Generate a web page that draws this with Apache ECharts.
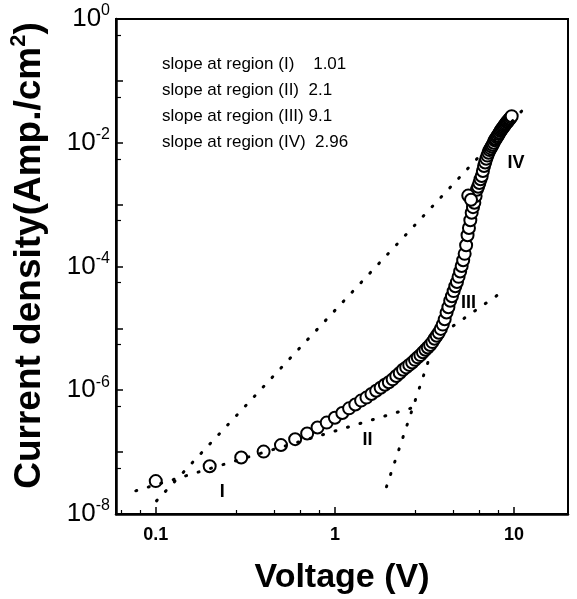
<!DOCTYPE html>
<html>
<head>
    <meta charset="utf-8" />
    <title>Current density vs voltage</title>
    <script src="https://cdn.jsdelivr.net/npm/echarts@6/dist/echarts.min.js"></script>
    <style>
        body { margin: 0; background: #fff; }
        #main { width: 577px; height: 599px; }
    </style>
</head>
<body>
<div id="main"></div>
<script type="text/javascript">
    // measured points (V, A/cm2)
    let voltage = [
        0.1, 0.2, 0.3, 0.4, 0.5, 0.6, 0.7, 0.8, 0.9, 1.0,
        1.1, 1.2, 1.3, 1.4, 1.5, 1.6, 1.7, 1.8, 1.9, 2.0,
        2.1, 2.2, 2.3, 2.4, 2.5, 2.6, 2.7, 2.8, 2.9, 3.0,
        3.1, 3.2, 3.3, 3.4, 3.5, 3.6, 3.7, 3.8, 3.9, 4.0,
        4.1, 4.2, 4.3, 4.4, 4.5, 4.6, 4.7, 4.8, 4.9, 5.0,
        5.1, 5.2, 5.3, 5.4, 5.5, 5.6, 5.7, 5.8, 5.9, 6.0,
        6.1, 6.2, 6.3, 6.4, 6.5, 6.6, 6.7, 6.8, 6.9, 7.0,
        7.1, 7.2, 7.3, 7.4, 7.5, 7.6, 7.7, 7.8, 7.9, 8.0,
        8.1, 8.2, 8.3, 8.4, 8.5, 8.6, 8.7, 8.8, 8.9, 9.0,
        9.1, 9.2, 9.3, 9.4, 9.5, 9.6, 9.7
    ]
    let current = [
        3.4e-8, 5.9e-8, 8.2e-8, 1.02e-7, 1.3e-7, 1.62e-7, 2.0e-7, 2.5e-7, 3.0e-7, 3.6e-7,
        4.3e-7, 5.1e-7, 5.9e-7, 6.8e-7, 7.6e-7, 8.7e-7, 9.8e-7, 1.1e-6, 1.23e-6, 1.35e-6,
        1.5e-6, 1.7e-6, 1.9e-6, 2.14e-6, 2.34e-6, 2.57e-6, 2.8e-6, 3.1e-6, 3.4e-6, 3.7e-6,
        4.1e-6, 4.5e-6, 4.9e-6, 5.4e-6, 6.0e-6, 6.8e-6, 7.6e-6, 8.5e-6, 9.8e-6, 1.15e-5,
        1.4e-5, 1.8e-5, 2.2e-5, 2.8e-5, 3.3e-5, 4.0e-5, 4.8e-5, 5.6e-5, 6.8e-5, 8.3e-5,
        1.02e-4, 1.26e-4, 1.6e-4, 2.2e-4, 3.2e-4, 4.2e-4, 5.6e-4, 7.4e-4, 9.1e-4, 1.07e-3,
        1.38e-3, 1.74e-3, 1.95e-3, 2.24e-3, 2.57e-3, 2.9e-3, 3.5e-3, 4.2e-3, 4.8e-3, 5.5e-3,
        6.2e-3, 6.9e-3, 7.6e-3, 8.1e-3, 8.7e-3, 9.3e-3, 1.0e-2, 1.1e-2, 1.15e-2, 1.23e-2,
        1.29e-2, 1.38e-2, 1.45e-2, 1.55e-2, 1.62e-2, 1.7e-2, 1.78e-2, 1.86e-2, 1.95e-2, 2.04e-2,
        2.14e-2, 2.19e-2, 2.29e-2, 2.4e-2, 2.45e-2, 2.57e-2, 2.69e-2
    ]
    // a couple of stray points near the jump at ~5.6 V
    let extraVoltage = [5.55, 5.75]
    let extraCurrent = [1.4e-3, 1.2e-3]

    // dotted fit lines, end points
    let fitLong = [[0.101, 1.63e-8], [11.7, 0.039]]
    let fitLow = [[0.0774, 2.37e-8], [2.82, 5.4e-7]]
    let fitSteep = [[1.94, 2.75e-8], [3.46, 4.2e-6]]
    let fitMid = [[4.58, 1.1e-5], [8.26, 3.6e-5]]

    // region labels
    let regionNames = ['I', 'II', 'III', 'IV']
    let regionX = [0.235, 1.52, 5.56, 10.26]
    let regionY = [2.3e-8, 1.58e-7, 2.6e-5, 4.7e-3]

    let slopeText = [
        'slope at region (I)    1.01',
        'slope at region (II)  2.1',
        'slope at region (III) 9.1',
        'slope at region (IV)  2.96'
    ]

    let xTickValues = [0.1, 1, 10]
    let xTickLabels = ['0.1', '1', '10']

    let fontName = 'Liberation Sans, Arial, sans-serif'

    let myChart = echarts.init(document.getElementById('main'))

    let points = []
    for (let i = 0; i < voltage.length; i++) {
        points.push([voltage[i], current[i]])
    }
    for (let i = 0; i < extraVoltage.length; i++) {
        points.push([extraVoltage[i], extraCurrent[i]])
    }

    let regionData = []
    for (let i = 0; i < regionNames.length; i++) {
        regionData.push({ name: regionNames[i], value: [regionX[i], regionY[i]] })
    }

    const dotLine = (data) => {
        return {
            type: 'line',
            data: data,
            symbol: 'none',
            silent: true,
            z: 4,
            lineStyle: {
                color: '#000',
                width: 3,
                type: [1, 12],
                cap: 'round',
            },
        }
    }

    let graphicTexts = []
    for (let i = 0; i < slopeText.length; i++) {
        graphicTexts.push({
            type: 'text',
            left: 162,
            top: 56 + i * 26,
            style: {
                text: slopeText[i],
                fontFamily: fontName,
                fontSize: 17,
                fill: '#000',
            },
        })
    }

    myChart.setOption({
        animation: false,
        grid: {
            left: 116,
            top: 19,
            right: 9,
            bottom: 85,
            show: true,
            borderColor: '#000',
            borderWidth: 2,
            outerBoundsMode: 'none',
        },
        graphic: graphicTexts,
        xAxis: {
            type: 'log',
            logBase: 10,
            min: 0.06,
            max: 20,
            name: 'Voltage (V)',
            nameLocation: 'middle',
            nameGap: 47,
            nameTextStyle: {
                fontFamily: fontName,
                fontWeight: 'bold',
                fontSize: 34,
                color: '#000',
            },
            axisLine: { lineStyle: { color: '#000', width: 2.5 } },
            axisTick: { inside: true, length: 7, lineStyle: { color: '#000', width: 1.5 } },
            minorTick: { show: true, splitNumber: 5, length: 4, lineStyle: { color: '#000', width: 1.2 } },
            splitLine: { show: false },
            axisLabel: {
                margin: 12,
                fontFamily: fontName,
                fontWeight: 'bold',
                fontSize: 18,
                color: '#000',
                formatter: function (value) {
                    for (let i = 0; i < xTickValues.length; i++) {
                        if (Math.abs(Math.log10(value) - Math.log10(xTickValues[i])) < 1e-6) {
                            return xTickLabels[i]
                        }
                    }
                    return ''
                }
            },
        },
        yAxis: {
            type: 'log',
            logBase: 10,
            min: 1e-8,
            max: 1,
            name: 'Current density(Amp./cm{s|2})',
            nameLocation: 'middle',
            nameGap: 64,
            nameTextStyle: {
                fontFamily: fontName,
                fontWeight: 'bold',
                fontSize: 37,
                color: '#000',
                padding: [0, 0, 0, 22],
                rich: {
                    s: {
                        fontFamily: fontName,
                        fontWeight: 'bold',
                        fontSize: 22,
                        color: '#000',
                        padding: [0, 0, 22, 0],
                    }
                }
            },
            axisLine: { lineStyle: { color: '#000', width: 2.5 } },
            axisTick: { inside: true, length: 7, lineStyle: { color: '#000', width: 1.5 } },
            minorTick: { show: true, splitNumber: 2, length: 5, lineStyle: { color: '#000', width: 1.2 } },
            splitLine: { show: false },
            axisLabel: {
                margin: 6,
                fontFamily: fontName,
                color: '#000',
                formatter: function (value) {
                    let e = Math.round(Math.log10(value))
                    if (e % 2 !== 0) {
                        return ''
                    }
                    return '{b|10}{s|' + e + '}'
                },
                rich: {
                    b: {
                        fontFamily: fontName,
                        fontSize: 26,
                        color: '#000',
                    },
                    s: {
                        fontFamily: fontName,
                        fontSize: 16,
                        color: '#000',
                        padding: [0, 0, 16, 0],
                    }
                }
            },
        },
        series: [
            {
                type: 'scatter',
                data: points,
                symbol: 'circle',
                symbolSize: 12,
                z: 3,
                itemStyle: {
                    color: '#fff',
                    borderColor: '#000',
                    borderWidth: 2,
                    opacity: 1,
                },
            },
            dotLine(fitLong),
            dotLine(fitLow),
            dotLine(fitSteep),
            dotLine(fitMid),
            {
                type: 'scatter',
                data: regionData,
                symbolSize: 1,
                z: 5,
                silent: true,
                itemStyle: { color: '#fff', opacity: 1 },
                label: {
                    show: true,
                    position: 'inside',
                    formatter: '{b}',
                    fontFamily: fontName,
                    fontWeight: 'bold',
                    fontSize: 18,
                    color: '#000',
                    opacity: 1,
                    textBorderWidth: 0,
                },
            },
        ]
    });
</script>
</body>
</html>
